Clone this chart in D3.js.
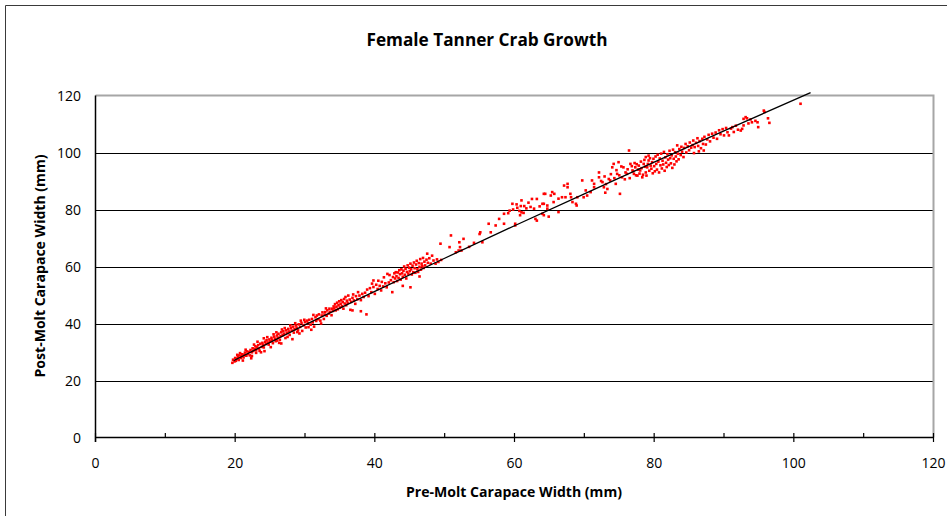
<!DOCTYPE html>
<html>
<head>
<meta charset="utf-8">
<script src="https://cdn.jsdelivr.net/npm/d3@7"></script>
<style>
  html, body { margin: 0; padding: 0; background: #fff; }
  svg { display: block; }
  text { font-family: 'Liberation Sans Narrow', 'Open Sans', 'Liberation Sans', sans-serif; fill: #000; }
</style>
</head>
<body>
<svg id="chart" width="947" height="516"></svg>
<script>
// Pre-molt vs post-molt carapace width (mm) for individual female Tanner crabs
const molts = [
  [19.6,26.2],[19.7,27.3],[19.9,26.7],[20.0,27.9],[20.1,26.9],[20.2,27.6],[20.4,28.3],[20.5,27.2],[20.6,28.8],[20.8,27.9],
  [20.9,28.5],[21.0,29.2],[21.2,28.1],[21.3,29.0],[21.4,29.8],[21.6,28.7],[21.7,30.2],[21.8,29.3],[22.0,30.0],[22.1,28.8],
  [22.2,30.7],[22.4,29.9],[22.5,31.3],[22.6,30.4],[22.8,31.0],[22.9,32.0],[23.0,30.6],[23.1,31.6],[23.3,32.4],[23.4,31.2],
  [23.5,30.4],[23.6,32.9],[23.8,31.8],[23.9,33.2],[24.0,32.5],[24.1,31.6],[24.3,33.6],[24.4,32.8],[24.5,34.1],[24.7,33.3],
  [24.8,32.6],[24.9,34.4],[25.0,33.7],[25.2,35.0],[25.3,34.2],[25.4,33.1],[25.6,35.4],[25.7,34.6],[25.8,33.8],[26.0,35.8],
  [26.1,35.0],[26.2,36.4],[26.4,34.3],[26.5,35.6],[26.6,36.9],[26.8,35.9],[26.9,37.3],[27.0,36.4],[27.2,34.9],[27.3,37.6],
  [27.4,36.7],[27.6,38.1],[27.7,37.2],[27.8,36.0],[28.0,38.4],[28.1,37.5],[28.3,38.9],[28.4,36.8],[28.5,38.0],[28.7,39.3],
  [28.8,38.5],[29.0,37.6],[29.1,39.7],[29.3,38.8],[29.5,40.2],[29.6,37.4],[29.8,39.4],[30.0,40.5],[30.1,38.6],[30.3,41.0],
  [26.6,33.0],[28.2,34.5],[22.4,28.6],
  [21.5,30.8],[22.3,27.8],[23.2,33.6],[24.2,30.3],[25.1,31.7],[25.9,36.9],[26.3,33.2],[27.1,38.4],[27.5,35.3],[28.6,40.1],
  [29.2,36.5],[29.9,41.3],[30.9,37.8],[31.2,43.0],[32.3,40.0],[33.0,45.3],[23.7,29.9],[24.6,35.2],[21.1,27.0],[20.3,29.0],
  [22.7,32.6],[25.5,36.2],[26.7,37.9],[27.9,39.3],[29.4,41.0],[24.1,34.8],[20.7,29.6],[23.0,29.7],[26.0,34.0],[28.9,37.0],
  [30.4,40.1],[30.5,38.7],[30.6,41.3],[30.8,39.6],[31.0,41.6],[31.1,40.4],[31.3,38.9],[31.5,42.2],[31.6,40.9],[31.7,42.8],
  [31.9,41.5],[32.0,43.2],[32.2,41.0],[32.4,42.8],[32.5,43.9],[32.7,41.6],[32.8,43.1],[32.9,44.0],[33.1,42.7],[33.2,44.6],
  [33.4,43.5],[33.5,45.2],[33.6,44.1],[33.8,42.9],[33.9,45.2],[34.0,44.4],[34.1,46.0],
  [34.2,45.3],[34.3,46.8],[34.4,44.6],[34.5,45.9],[34.6,47.3],[34.7,45.0],[34.8,46.4],[34.9,47.8],[35.0,45.6],[35.1,46.9],
  [35.2,48.2],[35.3,46.1],[35.4,47.5],[35.5,45.2],[35.6,48.6],[35.7,47.0],[35.8,49.3],[35.9,46.4],[36.0,48.0],[36.1,47.2],
  [36.2,49.8],[36.4,48.4],[36.5,44.8],[36.6,47.6],[36.8,49.0],[36.8,44.6],[36.9,50.2],[37.0,48.1],[37.2,46.9],[37.3,49.6],
  [37.5,48.5],[37.6,51.0],[37.8,49.8],[38.0,44.3],[38.0,48.2],[38.2,50.4],[38.4,49.3],[38.8,43.2],
  [38.6,50.8],[38.9,51.9],[39.1,49.6],[39.3,52.4],[39.5,51.0],[39.6,54.0],[39.8,52.8],[39.8,55.1],[40.0,50.4],[40.2,53.6],
  [40.4,52.1],[40.5,55.0],[40.7,53.2],[40.9,51.6],[41.0,54.6],[41.2,53.0],[41.3,56.2],[41.5,54.1],[41.7,52.7],[41.8,57.4],
  [42.0,54.4],[42.1,57.0],[42.3,55.2],[42.5,51.0],[43.0,58.0],
  [42.6,56.3],[42.7,54.5],[42.8,57.6],[42.9,55.8],[43.1,56.6],[43.2,54.9],[43.3,57.9],[43.4,56.0],[43.5,58.7],[43.6,57.3],
  [43.7,55.4],[43.8,59.0],[43.9,57.6],[44.0,56.4],[44.1,58.5],[44.2,60.0],[44.3,57.1],[44.4,59.2],[44.5,55.8],[44.6,58.1],
  [44.7,60.4],[44.8,57.5],[44.9,59.6],[45.0,58.4],[45.1,52.7],[45.1,61.0],[45.2,59.0],[45.3,57.2],[45.4,60.3],[45.5,58.0],
  [45.6,61.4],[45.7,59.4],[45.8,57.8],[45.9,60.7],[46.0,62.0],[46.1,59.0],[46.2,58.1],[46.3,61.2],[46.4,59.9],[46.5,62.6],
  [46.6,58.9],[46.7,61.0],[46.8,60.1],[46.9,63.0],[47.0,59.5],[47.1,61.7],[47.2,60.4],[47.4,62.4],[47.5,64.5],[47.6,61.3],
  [47.8,62.9],[48.0,61.0],[48.2,63.8],[48.4,62.1],[48.7,61.0],[48.9,62.5],[49.1,61.6],[49.4,68.0],[49.5,62.3],[44.0,53.2],
  [46.4,56.5],
  [50.7,66.8],[50.9,70.9],[51.6,65.0],[52.0,65.6],[52.1,68.5],[52.2,66.8],[52.4,65.6],[52.7,69.7],[53.5,66.9],[54.2,68.3],
  [55.0,71.4],[55.1,72.0],[55.4,68.5],[56.3,75.0],[56.6,72.0],[57.3,74.4],[57.8,76.7],[58.5,75.0],[58.5,78.5],[59.1,78.7],
  [59.7,82.0],[59.8,80.0],[60.1,75.0],[60.1,74.4],[60.4,80.6],[60.7,79.5],[60.8,78.0],[60.9,81.2],[61.0,83.2],[61.0,79.0],
  [61.3,78.8],[61.4,81.2],[62.3,80.9],[62.5,83.7],[62.8,80.3],[63.0,76.7],[63.2,83.7],[63.2,76.1],[64.0,82.0],[64.2,85.5],
  [64.2,78.0],[64.0,78.5],[64.9,77.5],[64.7,80.3],[64.2,82.0],[64.7,81.4],[59.3,79.6],[60.3,81.8],[61.7,80.4],[62.0,82.4],
  [63.6,81.1],
  [64.4,85.5],[65.4,86.1],[65.7,85.5],[65.2,84.9],[65.6,82.6],[66.3,83.8],[66.8,84.3],[67.3,84.3],[67.1,88.4],[67.6,89.0],
  [67.6,87.8],[68.0,85.5],[68.1,84.3],[68.3,82.6],[68.8,82.0],[69.0,84.3],[68.9,81.4],[69.7,90.2],[70.2,86.7],[70.4,84.9],
  [69.9,84.3],[71.1,90.2],[71.4,89.0],[71.4,87.8],[70.9,86.1],[72.1,91.3],[72.1,93.0],[72.6,89.6],[72.8,87.8],[73.3,87.2],
  [73.5,90.7],[73.7,90.2],[74.0,94.8],[74.2,96.0],[74.5,89.0],[74.7,92.5],[74.9,96.6],[75.1,85.5],[75.4,91.3],[75.6,94.8],
  [75.9,93.0],[76.1,92.5],[76.4,100.7],[76.6,96.0],[76.9,93.7],[77.1,92.5],[77.3,94.8],[77.6,91.9],[77.8,95.4],[78.0,93.7],
  [78.3,91.3],[78.5,96.0],[78.8,93.0],[79.0,94.8],[79.2,97.2],[79.2,98.9],[78.8,98.4],[79.5,95.4],[66.3,79.1],
  [72.4,90.0],[72.9,91.6],[73.1,88.9],[73.8,92.4],[74.3,91.0],[74.6,93.8],[75.0,92.0],[75.3,95.1],[75.8,90.6],[73.0,85.9],
  [76.2,94.1],[76.5,91.0],[76.8,95.2],[77.0,93.4],[77.2,96.3],[77.4,92.0],[77.5,95.9],[77.7,94.0],[77.9,92.6],[78.1,96.8],
  [78.2,94.5],[78.4,92.2],[78.6,97.4],[78.7,95.0],[78.9,91.9],[79.1,96.0],[79.3,93.6],[79.4,98.0],[79.6,94.3],[79.7,96.6],
  [79.8,92.7],[79.9,97.8],[80.0,95.2],[80.1,93.4],[80.2,98.6],[80.3,96.0],[80.4,94.0],[80.5,99.2],[80.6,96.8],[80.7,93.0],
  [80.8,97.9],[80.9,95.5],[81.0,99.6],[81.1,94.4],[81.2,97.1],[81.3,95.8],[81.4,100.2],[81.5,93.6],[81.6,98.3],[81.7,96.4],
  [81.8,94.9],[81.9,99.4],[82.0,97.5],[82.1,95.6],[82.2,100.6],[82.3,98.0],[82.4,96.2],[82.5,99.0],[82.6,94.6],[82.7,101.0],
  [82.8,97.8],[82.9,95.8],[83.0,100.1],[83.1,98.6],[83.2,96.9],[83.3,102.5],[83.4,99.6],[83.5,97.6],[83.6,101.2],[83.8,99.1],
  [83.9,102.0],[84.0,100.3],[84.2,98.4],[84.3,101.6],[84.5,103.0],[84.6,100.0],[84.8,102.2],[85.0,100.8],[85.1,103.5],[85.3,101.7],
  [85.5,102.6],[85.6,104.2],[85.8,101.9],[86.0,103.4],[86.2,105.0],[86.3,102.3],[86.5,104.0],[86.7,101.5],[86.9,104.8],[87.0,103.0],
  [87.2,105.5],[87.4,102.8],[87.6,104.6],[87.8,106.2],[88.0,103.9],[88.3,106.6],[88.5,105.2],[88.8,107.0],[89.0,104.8],[89.3,107.8],
  [89.5,106.4],[89.8,108.2],[90.0,106.0],[90.3,108.6],[90.5,107.1],[90.7,106.0],[91.0,108.4],[91.2,108.9],[91.4,107.2],[91.7,109.4],
  [92.0,108.0],[92.4,107.7],[92.6,108.3],[92.8,109.5],[92.8,111.8],[93.1,112.4],[93.3,112.0],[93.5,110.2],[93.8,111.6],[94.0,110.6],
  [94.5,111.1],[94.8,110.6],[94.9,108.9],[95.7,114.7],[95.8,114.2],[96.3,112.0],[96.5,110.4],[100.96,117.1],
  [86.4,100.4],[87.1,100.7],[85.7,99.8]
];

// Fitted growth curve
const fitPre  = [19.8, 30, 40, 50, 60, 70, 80, 90, 102.4];
const fitPost = [27.0, 39.5, 51.3, 62.9, 74.3, 85.5, 96.6, 107.6, 121.0];

const xTicks = [0, 20, 40, 60, 80, 100, 120];
const xMinorTicks = [10, 30, 50, 70, 90, 110];
const yTicks = [0, 20, 40, 60, 80, 100, 120];

const titleText = "Female Tanner Crab Growth";
const xTitle = "Pre-Molt Carapace Width (mm)";
const yTitle = "Post-Molt Carapace Width (mm)";

(function draw() {
  const svg = d3.select("#chart");
  const plot = { left: 95.5, right: 933.5, top: 95.5, bottom: 437.5 };

  const x = d3.scaleLinear().domain([0, 120]).range([plot.left, plot.right]);
  const y = d3.scaleLinear().domain([0, 120]).range([plot.bottom, plot.top]);

  // chart frame
  svg.append("path")
    .attr("d", "M5.5,520 V5.5 H950")
    .attr("fill", "none").attr("stroke", "#3a3a3a").attr("stroke-width", 1);

  // horizontal gridlines
  svg.append("g").selectAll("line")
    .data(yTicks.filter(v => v > 0 && v < 120))
    .join("line")
    .attr("x1", plot.left).attr("x2", plot.right)
    .attr("y1", d => Math.round(y(d)) + 0.5).attr("y2", d => Math.round(y(d)) + 0.5)
    .attr("stroke", "#000").attr("stroke-width", 1);

  // plot-area top and right border
  svg.append("path")
    .attr("d", `M${plot.left},${y(120)} H${plot.right} V${plot.bottom}`)
    .attr("fill", "none").attr("stroke", "#a6a6a6").attr("stroke-width", 2);

  // x axis: major ticks cross the axis, minor ticks inside
  const xAxis = svg.append("g");
  xAxis.append("line")
    .attr("x1", plot.left).attr("x2", plot.right).attr("y1", plot.bottom).attr("y2", plot.bottom)
    .attr("stroke", "#000").attr("stroke-width", 1.5);
  xAxis.selectAll(".maj").data(xTicks).join("line").attr("class", "maj")
    .attr("x1", d => x(d)).attr("x2", d => x(d))
    .attr("y1", plot.bottom - 4.5).attr("y2", plot.bottom + 4.5)
    .attr("stroke", "#000").attr("stroke-width", 1.2);
  xAxis.selectAll(".min").data(xMinorTicks).join("line").attr("class", "min")
    .attr("x1", d => x(d)).attr("x2", d => x(d))
    .attr("y1", plot.bottom - 4.5).attr("y2", plot.bottom)
    .attr("stroke", "#000").attr("stroke-width", 1.2);
  xAxis.selectAll("text").data(xTicks).join("text")
    .attr("x", d => x(d)).attr("y", 468)
    .attr("text-anchor", "middle").attr("font-size", 14)
    .text(d => d);

  // y axis
  const yAxis = svg.append("g");
  yAxis.append("line")
    .attr("x1", plot.left).attr("x2", plot.left).attr("y1", plot.top).attr("y2", plot.bottom + 4.5)
    .attr("stroke", "#000").attr("stroke-width", 1.5);
  yAxis.selectAll("text").data(yTicks).join("text")
    .attr("x", 81).attr("y", d => y(d) + 5)
    .attr("text-anchor", "end").attr("font-size", 14)
    .text(d => d);

  // observations
  svg.append("g").selectAll("rect")
    .data(molts)
    .join("rect")
    .attr("x", d => x(d[0]) - 1.3)
    .attr("y", d => y(d[1]) - 1.3)
    .attr("width", 2.6).attr("height", 2.6)
    .attr("fill", "#ff0000");

  // fitted curve
  const fit = fitPre.map((v, i) => [v, fitPost[i]]);
  svg.append("path")
    .datum(fit)
    .attr("d", d3.line().x(d => x(d[0])).y(d => y(d[1])).curve(d3.curveMonotoneX))
    .attr("fill", "none").attr("stroke", "#000").attr("stroke-width", 1.3);

  // titles
  svg.append("text")
    .attr("x", 487).attr("y", 46)
    .attr("text-anchor", "middle").attr("font-size", 17).attr("font-weight", "bold")
    .attr("textLength", 241).attr("lengthAdjust", "spacingAndGlyphs")
    .text(titleText);

  svg.append("text")
    .attr("x", 514).attr("y", 497)
    .attr("text-anchor", "middle").attr("font-size", 14).attr("font-weight", "bold")
    .attr("textLength", 216).attr("lengthAdjust", "spacingAndGlyphs")
    .text(xTitle);

  svg.append("text")
    .attr("transform", "translate(45,266) rotate(-90)")
    .attr("text-anchor", "middle").attr("font-size", 14).attr("font-weight", "bold")
    .attr("textLength", 223).attr("lengthAdjust", "spacingAndGlyphs")
    .text(yTitle);
})();
</script>
</body>
</html>
